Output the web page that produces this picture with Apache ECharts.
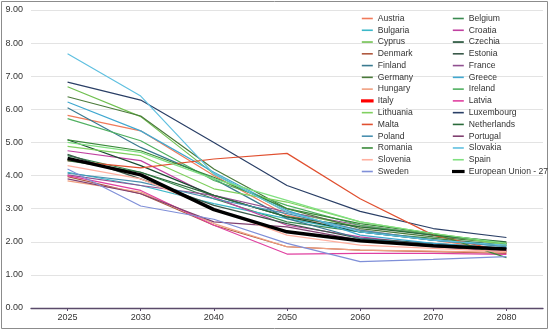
<!DOCTYPE html>
<html><head><meta charset="utf-8">
<script src="https://cdn.jsdelivr.net/npm/echarts@6/dist/echarts.min.js"></script>
<style>html,body{margin:0;padding:0;background:#fff}#c{width:550px;height:331px}</style>
</head><body><div id="c"></div>
<script>
const years = ["2025","2030","2040","2050","2060","2070","2080"];
const yTicks = [0,1,2,3,4,5,6,7,8,9];

const austria     = [5.82, 5.35, 4.00, 2.80, 2.35, 2.05, 1.75];
const belgium     = [4.60, 4.10, 3.30, 2.60, 2.30, 2.10, 1.90];
const bulgaria    = [4.10, 3.70, 3.15, 2.70, 2.30, 2.05, 1.85];
const croatia     = [4.75, 4.45, 3.35, 2.50, 2.15, 1.90, 1.75];
const cyprus      = [6.68, 5.78, 4.05, 2.90, 2.45, 2.25, 1.95];
const czechia     = [5.08, 4.30, 3.40, 2.75, 2.30, 2.05, 1.90];
const denmark     = [3.97, 3.45, 2.50, 1.85, 1.75, 1.70, 1.65];
const estonia     = [4.64, 3.90, 3.10, 2.55, 2.10, 1.95, 1.80];
const finland     = [6.05, 4.85, 3.90, 2.70, 2.10, 1.90, 1.80];
const france      = [4.02, 3.70, 3.40, 2.90, 2.50, 2.20, 1.95];
const germany     = [6.38, 5.80, 4.20, 3.00, 2.40, 2.15, 1.95];
const greece      = [6.22, 5.35, 4.10, 2.95, 2.20, 1.95, 1.80];
const hungary     = [3.84, 3.50, 2.55, 1.85, 1.75, 1.72, 1.68];
const ireland     = [5.72, 5.05, 3.85, 3.10, 2.50, 2.20, 1.95];
const italy       = [null, null, null, null, null, null, null];
const latvia      = [4.00, 3.55, 2.50, 1.63, 1.65, 1.65, 1.62];
const lithuania   = [4.88, 4.60, 3.60, 3.20, 2.60, 2.25, 1.90];
const luxembourg  = [6.82, 6.28, 5.00, 3.70, 2.92, 2.40, 2.13];
const malta       = [4.45, 4.23, 4.50, 4.67, 3.30, 2.20, 1.70];
const netherlands = [4.45, 4.10, 3.40, 2.75, 2.45, 2.20, 2.00];
const poland      = [4.07, 3.80, 3.30, 2.85, 2.35, 2.05, 1.85];
const portugal    = [3.90, 3.45, 2.60, 2.45, 2.05, 1.85, 1.70];
const romania     = [5.08, 4.75, 3.95, 3.00, 2.55, 2.25, 1.52];
const slovakia    = [7.68, 6.40, 4.05, 2.90, 2.30, 2.05, 1.90];
const slovenia    = [4.30, 3.90, 3.00, 2.20, 1.90, 1.80, 1.70];
const spain       = [5.00, 4.70, 3.90, 3.25, 2.60, 2.25, 1.95];
const sweden      = [4.20, 3.08, 2.68, 1.95, 1.40, 1.47, 1.55];
const eu27        = [4.52, 4.02, 2.97, 2.30, 2.03, 1.88, 1.78];

const seriesList = [
  ["Austria", austria], ["Belgium", belgium], ["Bulgaria", bulgaria], ["Croatia", croatia],
  ["Cyprus", cyprus], ["Czechia", czechia], ["Denmark", denmark], ["Estonia", estonia],
  ["Finland", finland], ["France", france], ["Germany", germany], ["Greece", greece],
  ["Hungary", hungary], ["Ireland", ireland], ["Italy", italy], ["Latvia", latvia],
  ["Lithuania", lithuania], ["Luxembourg", luxembourg], ["Malta", malta], ["Netherlands", netherlands],
  ["Poland", poland], ["Portugal", portugal], ["Romania", romania], ["Slovakia", slovakia],
  ["Slovenia", slovenia], ["Spain", spain], ["Sweden", sweden], ["European Union - 27", eu27]
];

const colors = {
  "Austria":"#f07a5a","Belgium":"#3a8a50","Bulgaria":"#3cb8c8","Croatia":"#c040a0",
  "Cyprus":"#70c050","Czechia":"#1a4a30","Denmark":"#b05a40","Estonia":"#3a5a4a",
  "Finland":"#3a7a90","France":"#905090","Germany":"#4a7a3a","Greece":"#40a8d0",
  "Hungary":"#f0a080","Ireland":"#50b060","Italy":"#ff0000","Latvia":"#e040a0",
  "Lithuania":"#80d060","Luxembourg":"#2a3f66","Malta":"#e05030","Netherlands":"#2a6a3a",
  "Poland":"#4a90b0","Portugal":"#804070","Romania":"#3a8a3a","Slovakia":"#60c0e0",
  "Slovenia":"#ffb0a0","Spain":"#80e080","Sweden":"#7f8fd8","European Union - 27":"#000000"
};
const thick = {"Italy":true, "European Union - 27":true};

const series = seriesList.map(([name, data]) => ({
  name, type:"line", data, symbol:"none", smooth:false,
  lineStyle:{color:colors[name], width: thick[name] ? 3.5 : 1.2},
  itemStyle:{color:colors[name]},
  z: name === "European Union - 27" ? 5 : 2
}));

const names = seriesList.map(s => s[0]);
const legendItem = n => ({
  name:n, icon:"rect",
  itemStyle: thick[n] ? {color:colors[n], borderColor:colors[n], borderWidth:1.6} : {color:colors[n], borderWidth:0}
});
const col1 = names.filter((_, i) => i % 2 === 0).map(legendItem);
const col2 = names.filter((_, i) => i % 2 === 1).map(legendItem);

const legendBase = {
  orient:"vertical", top:8, itemWidth:11, itemHeight:1.6, itemGap:0.77,
  textStyle:{fontSize:8.6, color:"#333", fontFamily:"Liberation Sans, Arial, sans-serif", lineHeight:11}
};

const chart = echarts.init(document.getElementById("c"), null, {renderer:"canvas"});
chart.setOption({
  animation:false,
  backgroundColor:"#fff",
  textStyle:{fontFamily:"Liberation Sans, Arial, sans-serif"},
  graphic:[{type:"rect", shape:{x:1.5, y:1.5, width:546, height:327}, style:{fill:"none", stroke:"#8c8c8c", lineWidth:1}, silent:true, z:-1}],
  grid:{left:31, right:7, top:10, bottom:23, containLabel:false},
  legend:[
    Object.assign({}, legendBase, {left:356, data:col1}),
    Object.assign({}, legendBase, {left:447, data:col2})
  ],
  xAxis:{
    type:"category", data:years, boundaryGap:true,
    axisLine:{show:true, lineStyle:{color:"#5a4a6a", width:1.3}},
    axisTick:{show:true, alignWithLabel:true, length:3, lineStyle:{color:"#5a4a6a"}},
    axisLabel:{fontSize:9, color:"#333", margin:5}
  },
  yAxis:{
    type:"value", min:yTicks[0], max:yTicks[yTicks.length-1], interval:1,
    axisLine:{show:false}, axisTick:{show:false},
    splitLine:{lineStyle:{color:"#e3e3e3", width:1}},
    axisLabel:{fontSize:9, color:"#333", margin:8, formatter:v => v.toFixed(2)}
  },
  series
});
</script></body></html>
